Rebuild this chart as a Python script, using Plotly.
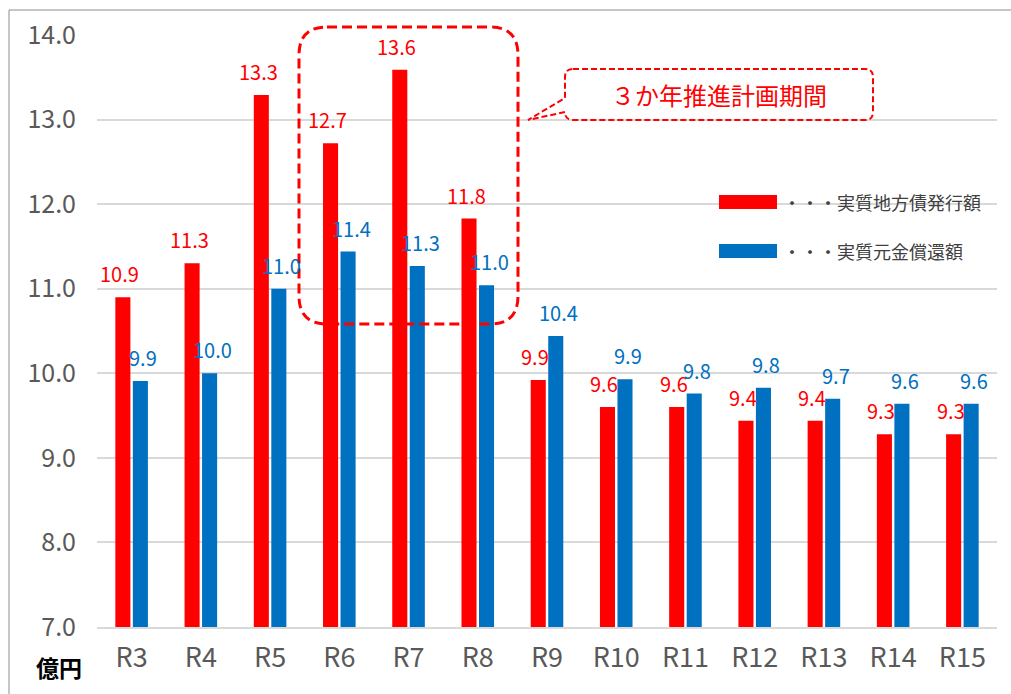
import plotly.graph_objects as go

# ---- data ----
categories = ['R3', 'R4', 'R5', 'R6', 'R7', 'R8', 'R9', 'R10', 'R11', 'R12', 'R13', 'R14', 'R15']
issue_values = [10.90, 11.30, 13.29, 12.72, 13.59, 11.83, 9.92, 9.60, 9.60, 9.44, 9.44, 9.28, 9.28]
repay_values = [9.91, 10.00, 11.00, 11.44, 11.27, 11.04, 10.44, 9.93, 9.76, 9.83, 9.70, 9.64, 9.64]
series_names = ['実質地方債発行額', '実質元金償還額']
unit_label = '億円'
callout_text = '３か年推進計画期間'
y_ticks = [7, 8, 9, 10, 11, 12, 13, 14]

RED = '#FF0000'
BLUE = '#0070C0'
FONT = 'Noto Sans CJK JP'

W, H = 1011, 694
ML, MR, MT, MB = 97, 14, 35, 67
PW, PH = W - ML - MR, H - MT - MB
BARGAP = 0.494
BARGROUPGAP = 0.14
LABEL_SHIFT = 7
LABEL_XSHIFT = 3


def px(x):
    return (x - ML) / PW


def py(y):
    return (H - MB - y) / PH


fig = go.Figure()
fig.add_trace(go.Bar(x=categories, y=issue_values, name=series_names[0],
                     marker=dict(color=RED, line=dict(width=0)), showlegend=False))
fig.add_trace(go.Bar(x=categories, y=repay_values, name=series_names[1],
                     marker=dict(color=BLUE, line=dict(width=0)), showlegend=False))

annotations = []
off = (1 - BARGAP) / 4
for i, (a, b) in enumerate(zip(issue_values, repay_values)):
    annotations.append(dict(x=i - off, y=a, xref='x', yref='y', text=f'{a:.1f}',
                            showarrow=False, yanchor='bottom', yshift=LABEL_SHIFT,
                            xshift=-LABEL_XSHIFT,
                            font=dict(family=FONT, size=20, color=RED)))
    annotations.append(dict(x=i + off, y=b, xref='x', yref='y', text=f'{b:.1f}',
                            showarrow=False, yanchor='bottom', yshift=LABEL_SHIFT,
                            xshift=LABEL_XSHIFT,
                            font=dict(family=FONT, size=20, color=BLUE)))

# unit label
annotations.append(dict(x=px(59), y=py(667), xref='paper', yref='paper', text=f'<b>{unit_label}</b>',
                        showarrow=False, xanchor='center', yanchor='middle',
                        font=dict(family=FONT, size=23, color='#000000')))

# legend texts
for name, yc in zip(series_names, [202, 251]):
    annotations.append(dict(x=px(781), y=py(yc), xref='paper', yref='paper',
                            text='・・・' + name, showarrow=False,
                            xanchor='left', yanchor='middle',
                            font=dict(family=FONT, size=18, color='#404040')))

# callout text
annotations.append(dict(x=px(719), y=py(94), xref='paper', yref='paper', text=callout_text,
                        showarrow=False, xanchor='center', yanchor='middle',
                        font=dict(family=FONT, size=24, color=RED)))

shapes = []
# outer border
shapes.append(dict(type='rect', xref='paper', yref='paper',
                   x0=px(9), x1=px(1030), y0=py(720), y1=py(10),
                   line=dict(color='#8C8C8C', width=1), fillcolor='rgba(0,0,0,0)', layer='below'))

# legend swatches
for col, (y0, y1) in zip([RED, BLUE], [(195, 209), (244, 258)]):
    shapes.append(dict(type='rect', xref='paper', yref='paper',
                       x0=px(719), x1=px(777), y0=py(y1), y1=py(y0),
                       line=dict(width=0), fillcolor=col))


def rounded_rect_path(L, R, T, B, r):
    p = (f'M {px(L + r)},{py(T)} L {px(R - r)},{py(T)} Q {px(R)},{py(T)} {px(R)},{py(T + r)} '
         f'L {px(R)},{py(B - r)} Q {px(R)},{py(B)} {px(R - r)},{py(B)} '
         f'L {px(L + r)},{py(B)} Q {px(L)},{py(B)} {px(L)},{py(B - r)} '
         f'L {px(L)},{py(T + r)} Q {px(L)},{py(T)} {px(L + r)},{py(T)} Z')
    return p


# period highlight box
shapes.append(dict(type='path', xref='paper', yref='paper',
                   path=rounded_rect_path(299, 518, 27, 324, 28),
                   line=dict(color=RED, width=3, dash='10px,5px')))

# callout with wedge
L, R, T, B, r = 565, 873, 69, 120, 8
tipx, tipy = 528, 120
wy1, wy2 = 98, 112
callout_path = (f'M {px(L + r)},{py(T)} L {px(R - r)},{py(T)} Q {px(R)},{py(T)} {px(R)},{py(T + r)} '
                f'L {px(R)},{py(B - r)} Q {px(R)},{py(B)} {px(R - r)},{py(B)} '
                f'L {px(L + r)},{py(B)} Q {px(L)},{py(B)} {px(L)},{py(wy2)} '
                f'L {px(tipx)},{py(tipy)} L {px(L)},{py(wy1)} '
                f'L {px(L)},{py(T + r)} Q {px(L)},{py(T)} {px(L + r)},{py(T)} Z')
shapes.append(dict(type='path', xref='paper', yref='paper', path=callout_path,
                   line=dict(color=RED, width=2, dash='6px,3px'), fillcolor='rgba(0,0,0,0)'))

fig.update_layout(
    width=W, height=H,
    margin=dict(l=ML, r=MR, t=MT, b=MB),
    paper_bgcolor='white', plot_bgcolor='white',
    barmode='group', bargap=BARGAP, bargroupgap=BARGROUPGAP,
    font=dict(family=FONT, color='#595959'),
    annotations=annotations, shapes=shapes,
    showlegend=False,
    xaxis=dict(type='category', showgrid=False, showline=True, linecolor='#D9D9D9', linewidth=1.5,
               tickfont=dict(family=FONT, size=27, color='#595959'), ticks='',
               ticklabelstandoff=6, fixedrange=True),
    yaxis=dict(range=[7, 14], tickvals=y_ticks, tickformat='.1f', showgrid=True,
               gridcolor='#D9D9D9', gridwidth=1.5, zeroline=False, showline=False,
               tickfont=dict(family=FONT, size=25, color='#595959'), ticks='',
               ticklabelstandoff=20, fixedrange=True),
)

fig.write_html('out.html', config={'displayModeBar': False})
